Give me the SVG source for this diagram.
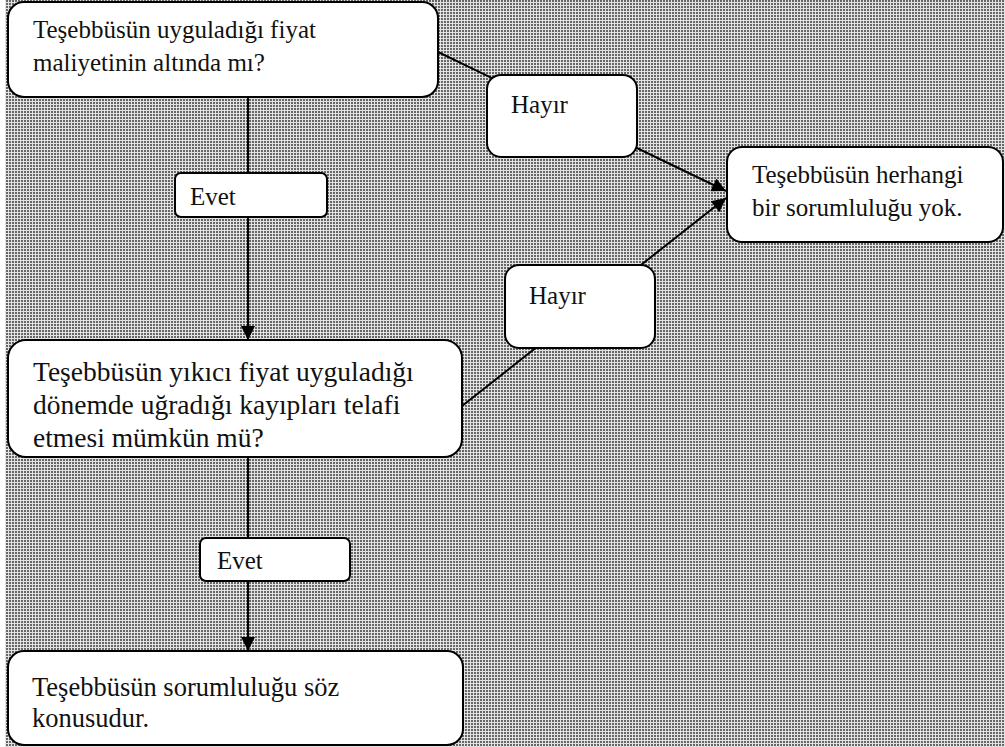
<svg xmlns="http://www.w3.org/2000/svg" width="1005" height="747" viewBox="0 0 1005 747">
  <defs>
    <pattern id="dots" width="3" height="3" patternUnits="userSpaceOnUse">
      <rect width="3" height="3" fill="#e2e2e2"/>
      <rect width="2" height="2" fill="#666"/>
    </pattern>
    <marker id="arrow" viewBox="0 0 10 10" refX="10" refY="5" markerWidth="15" markerHeight="14" markerUnits="userSpaceOnUse" orient="auto">
      <path d="M0,0 L10,5 L0,10 Z" fill="#000"/>
    </marker>
  </defs>
  <style>
    .box { fill: #fff; stroke: #000; stroke-width: 2; }
    .lbl { font-family: "Liberation Serif", "Times New Roman", serif; font-size: 25px; fill: #111; }
    .mid { font-size: 26.5px; }
    .big { font-size: 27.5px; }
    .conn { stroke: #000; stroke-width: 2; fill: none; }
  </style>

  <!-- dotted backdrop -->
  <rect x="5" y="0" width="1000" height="747" fill="url(#dots)"/>

  <g id="connectors">
    <line class="conn" x1="248" y1="97" x2="248" y2="340" marker-end="url(#arrow)"/>
    <line class="conn" x1="248" y1="457" x2="248" y2="651" marker-end="url(#arrow)"/>
    <line class="conn" x1="438" y1="52" x2="726" y2="191" marker-end="url(#arrow)"/>
    <line class="conn" x1="462" y1="406" x2="726" y2="198" marker-end="url(#arrow)"/>
  </g>

  <g id="q1">
    <rect class="box" x="8" y="2" width="430" height="95" rx="16"/>
    <text class="lbl" x="33" y="38">Teşebbüsün uyguladığı fiyat</text>
    <text class="lbl" x="33" y="71">maliyetinin altında mı?</text>
  </g>

  <g id="no1">
    <rect class="box" x="487" y="75" width="150" height="82" rx="14"/>
    <text class="lbl" x="511" y="113">Hayır</text>
  </g>

  <g id="result-none">
    <rect class="box" x="727" y="147" width="276" height="95" rx="15"/>
    <text class="lbl" x="752" y="183">Teşebbüsün herhangi</text>
    <text class="lbl" x="752" y="216">bir sorumluluğu yok.</text>
  </g>

  <g id="yes1">
    <rect class="box" x="175" y="173" width="152" height="44" rx="6"/>
    <text class="lbl" x="190" y="205">Evet</text>
  </g>

  <g id="no2">
    <rect class="box" x="505" y="265" width="150" height="83" rx="14"/>
    <text class="lbl" x="529" y="304">Hayır</text>
  </g>

  <g id="q2">
    <rect class="box" x="8" y="340" width="454" height="117" rx="18"/>
    <text class="lbl big" x="33" y="381">Teşebbüsün yıkıcı fiyat uyguladığı</text>
    <text class="lbl big" x="33" y="414">dönemde uğradığı kayıpları telafi</text>
    <text class="lbl big" x="33" y="447">etmesi mümkün mü?</text>
  </g>

  <g id="yes2">
    <rect class="box" x="200" y="538" width="150" height="43" rx="6"/>
    <text class="lbl" x="217" y="569">Evet</text>
  </g>

  <g id="result-liable">
    <rect class="box" x="8" y="651" width="455" height="94" rx="16"/>
    <text class="lbl mid" x="32" y="696">Teşebbüsün sorumluluğu söz</text>
    <text class="lbl mid" x="32" y="727">konusudur.</text>
  </g>
</svg>
